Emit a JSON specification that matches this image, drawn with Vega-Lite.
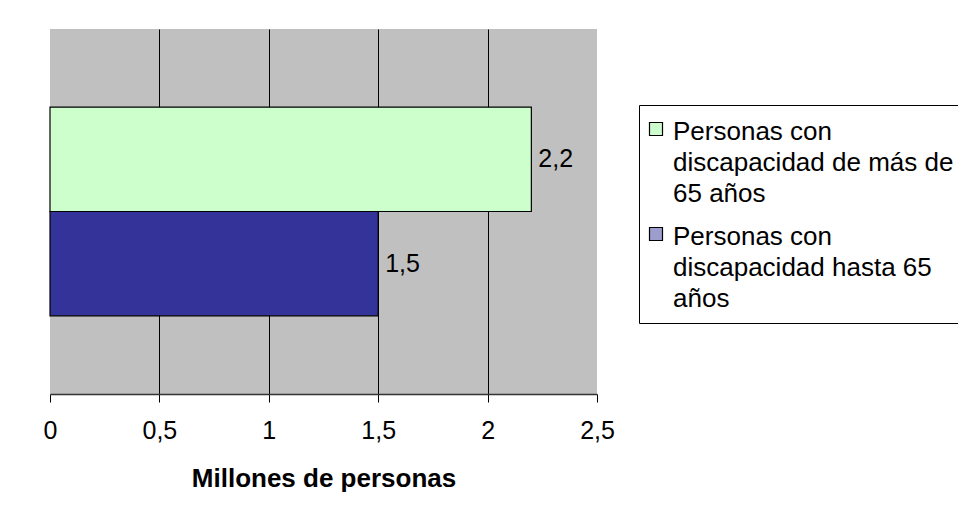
{
  "$schema": "https://vega.github.io/schema/vega-lite/v6.json",
  "autosize": {"type": "none"},
  "width": 547,
  "height": 365,
  "padding": {"left": 50, "top": 29, "right": 361, "bottom": 124},
  "background": "#ffffff",
  "data": {
    "values": [
      {"grupo": "Personas con discapacidad de más de 65 años", "valor": 2.2},
      {"grupo": "Personas con discapacidad hasta 65 años", "valor": 1.5}
    ]
  },
  "config": {
    "font": "Liberation Sans",
    "view": {"fill": "#C0C0C0", "stroke": null},
    "locale": {"number": {"decimal": ",", "thousands": ".", "grouping": [3], "currency": ["", " €"]}}
  },
  "encoding": {
    "y": {
      "field": "grupo",
      "type": "nominal",
      "sort": ["Personas con discapacidad de más de 65 años", "Personas con discapacidad hasta 65 años"],
      "scale": {"paddingInner": 0, "paddingOuter": 0.75},
      "axis": null
    }
  },
  "layer": [
    {
      "mark": {"type": "bar", "stroke": "#000000", "strokeWidth": 1.2},
      "encoding": {
        "x": {
          "field": "valor",
          "type": "quantitative",
          "scale": {"domain": [0, 2.5], "nice": false},
          "axis": {
            "values": [0, 0.5, 1, 1.5, 2, 2.5],
            "format": "~g",
            "title": "Millones de personas",
            "titleFont": "Liberation Sans",
            "titleFontSize": 26,
            "titleFontWeight": "bold",
            "titleColor": "#000000",
            "titleBaseline": "alphabetic",
            "titleY": 92,
            "labelFont": "Liberation Sans",
            "labelFontSize": 25,
            "labelColor": "#000000",
            "labelPadding": 16,
            "labelFlush": false,
            "tickSize": 8,
            "tickColor": "#000000",
            "domainColor": "#333333",
            "domainWidth": 1.5,
            "gridColor": "#000000",
            "gridWidth": 1,
            "gridOpacity": {"condition": {"test": "datum.value == 0 || datum.value == 2.5", "value": 0}, "value": 1}
          }
        },
        "fill": {
          "field": "grupo",
          "type": "nominal",
          "sort": ["Personas con discapacidad de más de 65 años", "Personas con discapacidad hasta 65 años"],
          "scale": {
            "domain": ["Personas con discapacidad de más de 65 años", "Personas con discapacidad hasta 65 años"],
            "range": ["#CCFFCC", "#333399"]
          },
          "legend": {
            "title": null,
            "orient": "none",
            "legendX": 589,
            "legendY": 76,
            "fillColor": "#ffffff",
            "strokeColor": "#000000",
            "padding": 11,
            "rowPadding": 14,
            "symbolType": "square",
            "symbolSize": 169,
            "symbolStrokeColor": "#000000",
            "symbolStrokeWidth": 1.2,
            "symbolOffset": -7,
            "labelFont": "Liberation Sans",
            "labelFontSize": 26,
            "labelColor": "#000000",
            "labelLimit": 500,
            "labelOffset": 4,
            "labelBaseline": "top",
            "labelExpr": "datum.label == 'Personas con discapacidad hasta 65 años' ? ['Personas con', 'discapacidad hasta 65', 'años'] : ['Personas con', 'discapacidad de más de', '65 años']",
            "encode": {
              "labels": {"update": {"lineHeight": {"value": 31}, "dy": {"value": -10}}},
              "symbols": {
                "enter": {
                  "stroke": {"value": "#000000"},
                  "strokeWidth": {"value": 1.2}
                },
                "update": {
                  "stroke": {"value": "#000000"},
                  "strokeWidth": {"value": 1.2},
                  "fillOpacity": [
                    {"test": "datum.index == 1", "value": 0.48},
                    {"value": 1}
                  ]
                }
              }
            }
          }
        }
      }
    },
    {
      "mark": {"type": "text", "align": "left", "baseline": "middle", "dx": 7, "fontSize": 25, "font": "Liberation Sans", "color": "#000000"},
      "encoding": {
        "x": {"field": "valor", "type": "quantitative"},
        "text": {"field": "valor", "type": "quantitative", "format": "~g"}
      }
    }
  ]
}
